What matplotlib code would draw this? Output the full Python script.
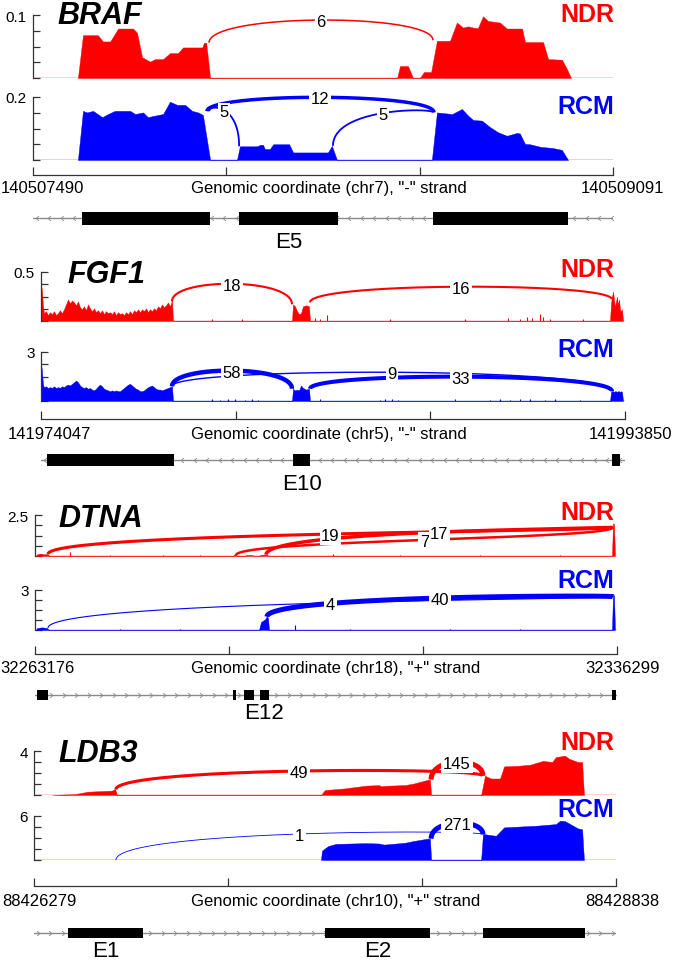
import numpy as np
import matplotlib
matplotlib.use('Agg')
import matplotlib.pyplot as plt
from matplotlib.patches import Rectangle
from matplotlib.path import Path
from matplotlib.transforms import offset_copy

plt.rcParams['font.family'] = ['Liberation Sans', 'DejaVu Sans']

# ---------------- data ----------------
genes = ['BRAF', 'FGF1', 'DTNA', 'LDB3']
chroms = ['chr7', 'chr5', 'chr18', 'chr10']
strands = ['-', '-', '+', '+']
region_start = [140507490, 141974047, 32263176, 88426279]
region_end = [140509091, 141993850, 32336299, 88428838]
ndr_ymax = [0.1, 0.5, 2.5, 4]
rcm_ymax = [0.2, 3, 3, 6]
ndr_ylabel = ['0.1', '0.5', '2.5', '4']
rcm_ylabel = ['0.2', '3', '3', '6']

# coverage: positions are bp offsets from region start
braf_ndr_pos = [124, 138, 179, 193, 213, 235, 276, 287, 301, 323, 337, 359, 378, 400, 414, 467, 472, 478, 489,
                1005, 1013, 1035, 1049, 1068, 1079, 1099, 1115, 1151, 1170, 1187, 1201, 1215, 1228, 1242, 1256,
                1289, 1308, 1350, 1358, 1408, 1422, 1460, 1474, 1485]
braf_ndr_val = [0, 0.068, 0.068, 0.058, 0.058, 0.0785, 0.0785, 0.072, 0.033, 0.026, 0.030, 0.030, 0.0395, 0.0395,
                0.0485, 0.0485, 0.056, 0.056, 0,
                0, 0.019, 0.019, 0, 0, 0.0095, 0.0095, 0.059, 0.059, 0.088, 0.080, 0.082, 0.080, 0.079, 0.098,
                0.0905, 0.088, 0.0785, 0.0785, 0.057, 0.057, 0.030, 0.029, 0.014, 0]
braf_rcm_pos = [124, 138, 149, 166, 191, 207, 226, 268, 282, 304, 317, 337, 359, 378, 398, 420, 439, 456, 469, 489,
                563, 571, 618, 627, 635, 640, 654, 663, 707, 718, 814, 825, 839,
                1101, 1115, 1157, 1184, 1201, 1215, 1239, 1262, 1284, 1308, 1336, 1344, 1358, 1372, 1400, 1435,
                1460, 1477]
braf_rcm_val = [0, 0.156, 0.151, 0.156, 0.136, 0.146, 0.156, 0.156, 0.146, 0.151, 0.136, 0.141, 0.146, 0.185,
                0.175, 0.175, 0.156, 0.151, 0.143, 0,
                0, 0.0435, 0.0435, 0.048, 0.048, 0.035, 0.035, 0.05, 0.05, 0.024, 0.024, 0.045, 0,
                0, 0.151, 0.146, 0.162, 0.141, 0.127, 0.125, 0.104, 0.088, 0.077, 0.086, 0.084, 0.051, 0.050,
                0.042, 0.038, 0.032, 0]

fgf1_e1_pos = [0, 34, 68, 102, 170, 237, 305, 373, 441, 509, 576, 644, 712, 780, 848, 916, 983, 1051, 1119,
               1187, 1255, 1322, 1390, 1458, 1526, 1594, 1662, 1729, 1797, 1865, 1933, 2001, 2069, 2136, 2204,
               2272, 2340, 2408, 2475, 2543, 2611, 2679, 2747, 2815, 2882, 2950, 3018, 3086, 3154, 3221, 3289,
               3357, 3425, 3493, 3561, 3628, 3696, 3764, 3832, 3900, 3967, 4035, 4103, 4171, 4239, 4307, 4374,
               4442, 4476]
fgf1_ndr_e1 = [0.38, 0.30, 0.15,
               0.08, 0.10, 0.06, 0.09, 0.07, 0.10, 0.06, 0.08, 0.11, 0.08,
               0.12, 0.17, 0.22, 0.18, 0.21, 0.19, 0.16, 0.20, 0.14, 0.12,
               0.15, 0.11, 0.17, 0.13, 0.10, 0.13, 0.09, 0.11, 0.08, 0.11,
               0.07, 0.10, 0.08, 0.09, 0.07, 0.10, 0.06, 0.09, 0.07, 0.08,
               0.06, 0.09, 0.07, 0.10, 0.07, 0.11, 0.09, 0.12, 0.09, 0.12,
               0.10, 0.13, 0.09, 0.12, 0.10, 0.13, 0.11, 0.15, 0.13, 0.17,
               0.14, 0.16, 0.19, 0.15, 0.21,
               0]
fgf1_rcm_e1 = [2.3, 1.8, 1.0,
               0.85, 0.9, 0.8, 0.85, 0.8, 0.9, 0.8, 0.85, 0.8, 0.9,
               0.85, 0.95, 1.0, 0.95, 1.05, 1.15, 1.25, 1.15, 0.95, 0.85,
               0.8, 0.85, 0.75, 0.8, 0.7, 0.65, 0.75, 0.9, 1.0, 0.9,
               0.75, 0.7, 0.65, 0.6, 0.65, 0.6, 0.65, 0.6, 0.6, 0.7,
               0.8, 0.9, 1.0, 1.05, 0.95, 0.85, 0.75, 0.7, 0.6, 0.6,
               0.65, 0.75, 0.85, 0.9, 0.95, 0.85, 0.75, 0.7, 0.7, 0.65,
               0.7, 0.75, 0.8, 0.85, 0.9,
               0]
fgf1_e2_pos = [8511, 8545, 8613, 8681, 8749, 8817, 8884, 8986, 9088, 9122]
fgf1_ndr_e2 = [0, 0.17, 0.15, 0.10, 0.07, 0.08, 0.15, 0.16, 0.15, 0]
fgf1_rcm_e2 = [0, 0.75, 0.65, 0.7, 0.65, 0.95, 0.8, 0.7, 0.75, 0]
fgf1_e3_pos = [19295, 19329, 19363, 19397, 19431, 19464, 19498, 19532, 19566, 19600, 19634, 19668, 19702, 19736]
fgf1_ndr_e3 = [0, 0.18, 0.25, 0.30, 0.22, 0.14, 0.20, 0.25, 0.16, 0.22, 0.12, 0.10, 0.12, 0]
fgf1_rcm_e3 = [0, 0.55, 0.6, 0.6, 0.55, 0.6, 0.6, 0.55, 0.6, 0.6, 0.55, 0.6, 0.55, 0]
fgf1_ndr_spk_pos = [5799, 6816, 9291, 9461, 9698, 11835, 14378, 15836, 16243, 16480, 16650, 16921, 17023, 17260, 18379]
fgf1_ndr_spk_val = [0.02, 0.02, 0.03, 0.02, 0.06, 0.02, 0.02, 0.03, 0.02, 0.04, 0.03, 0.07, 0.04, 0.02, 0.02]
fgf1_rcm_spk_pos = [5799, 6070, 6341, 6579, 6918, 7155, 7358, 9461, 11495, 11665, 11902, 12106, 14039, 15226,
                    15565, 15904, 16243, 16582, 17090, 17430, 18277]
fgf1_rcm_spk_val = [0.10, 0.08, 0.12, 0.10, 0.08, 0.10, 0.06, 0.10, 0.08, 0.12, 0.10, 0.08, 0.12, 0.08,
                    0.10, 0.08, 0.12, 0.10, 0.08, 0.10, 0.06]

dtna_ndr_pos = [126, 251, 628, 1131, 1633, 1759, 24877, 25002, 25254, 25379, 26259, 26510, 27264, 27515,
                28143, 28395, 29148, 29400, 72494, 72620, 72746, 72871]
dtna_ndr_val = [0, 0.1, 0.15, 0.1, 0.12, 0, 0, 0.08, 0.08, 0, 0, 0.06, 0.06, 0, 0, 0.08, 0.08, 0, 0, 2.0, 1.95, 0]
dtna_ndr_spk_pos = [4397, 9423, 16082, 20731, 37441, 45859, 55910, 65961]
dtna_ndr_spk_val = [0.26, 0.05, 0.08, 0.05, 0.10, 0.04, 0.05, 0.04]
dtna_rcm_pos = [126, 251, 879, 1508, 1759, 28143, 28395, 28898, 29148, 29274, 29400, 72494, 72620, 72746, 72871]
dtna_rcm_val = [0, 0.15, 0.2, 0.15, 0, 0, 0.6, 0.8, 1.05, 0.9, 0, 0, 2.7, 2.6, 0]
dtna_rcm_spk_pos = [10679, 18218, 32666, 39577, 52141, 60935]
dtna_rcm_spk_val = [0.05, 0.06, 0.4, 0.05, 0.06, 0.05]

ldb3_ndr_pos = [79, 180, 237, 343, 356, 365,
                1262, 1279, 1367, 1460, 1517, 1526, 1557, 1631, 1671, 1728, 1741, 1746,
                1966, 1983, 2009, 2049, 2067, 2124, 2181, 2238, 2278, 2295, 2335, 2352, 2392, 2410, 2418]
ldb3_ndr_val = [0, 0.08, 0.3, 0.4, 0.55, 0,
                0, 0.45, 0.6, 0.85, 0.9, 0.8, 0.85, 0.9, 1.05, 1.36, 1.4, 0,
                0, 1.75, 1.5, 1.5, 2.6, 2.65, 2.75, 3.1, 3.0, 3.45, 3.57, 3.3, 3.0, 3.0, 0]
ldb3_rcm_pos = [1262, 1266, 1293, 1328, 1460, 1517, 1539, 1631, 1671, 1728, 1741, 1746,
                1966, 1974, 2031, 2067, 2220, 2295, 2313, 2335, 2352, 2392, 2410, 2418]
ldb3_rcm_val = [0, 1.27, 1.9, 2.2, 2.3, 2.25, 2.1, 2.35, 2.6, 2.9, 2.9, 0,
                0, 3.55, 3.3, 4.45, 4.7, 4.9, 5.36, 5.3, 5.0, 4.3, 4.2, 0]

# junctions: (donor offset, acceptor offset, read count)
braf_ndr_junc = [(486, 1104, 6)]
braf_rcm_junc = [(480, 1107, 12), (486, 569, 5), (828, 1104, 5)]
fgf1_ndr_junc = [(4442, 8511, 18), (9122, 19363, 16)]
fgf1_rcm_junc = [(4442, 8511, 58), (4442, 19363, 9), (9122, 19363, 33)]
dtna_ndr_junc = [(1633, 72620, 19), (25254, 72620, 7), (29023, 72620, 17)]
dtna_rcm_junc = [(1633, 72620, 4), (29148, 72620, 40)]
ldb3_ndr_junc = [(360, 1974, 49), (1746, 1974, 145)]
ldb3_rcm_junc = [(360, 1974, 1), (1746, 1974, 271)]

# gene models (exon offsets)
braf_exons = [(135, 489), (569, 842), (1104, 1477)]
fgf1_exons = [(203, 4510), (8545, 9122), (19363, 19634)]
dtna_exons = [(251, 1633), (24877, 25254), (26259, 27515), (28269, 29400), (72494, 72998)]
ldb3_exons = [(150, 479), (1280, 1741), (1974, 2423)]
braf_exon_names = {1: 'E5'}
fgf1_exon_names = {1: 'E10'}
dtna_exon_names = {3: 'E12'}
ldb3_exon_names = {0: 'E1', 1: 'E2'}

# ---------------- styles (arc anchor heights, label heights, widths) ----------------
braf_ndr_arc_style = [(0.056, 0.06, 0.092, 1.1)]
braf_rcm_arc_style = [(0.155, 0.151, 0.199, 2.5), (0.155, 0.0435, 0.158, 1.3), (0.045, 0.151, 0.149, 1.3)]
fgf1_ndr_arc_style = [(0.20, 0.17, 0.38, 1.5), (0.19, 0.22, 0.35, 1.5)]
fgf1_rcm_arc_style = [(0.9, 0.75, 1.86, 3.2), (0.9, 0.6, 1.76, 1.0), (0.75, 0.6, 1.49, 2.9)]
dtna_ndr_arc_style = [(0.12, 1.75, 1.34, 2.2), (0.05, 1.75, 0.98, 1.8), (0.08, 1.75, 1.46, 2.5)]
dtna_rcm_arc_style = [(0.15, 2.5, 2.03, 0.8), (1.0, 2.5, 2.4, 3.6)]
ldb3_ndr_arc_style = [(0.5, 1.75, 2.18, 2.2), (1.4, 1.75, 3.0, 3.6)]
ldb3_rcm_arc_style = [(0.0, 3.5, 3.55, 0.6), (2.9, 3.5, 5.05, 3.6)]

tracks = [
    dict(ndr=(braf_ndr_pos, braf_ndr_val, [], []), rcm=(braf_rcm_pos, braf_rcm_val, [], []),
         ndr_j=braf_ndr_junc, rcm_j=braf_rcm_junc, ndr_s=braf_ndr_arc_style, rcm_s=braf_rcm_arc_style,
         exons=braf_exons, names=braf_exon_names),
    dict(ndr=(fgf1_e1_pos + fgf1_e2_pos + fgf1_e3_pos, fgf1_ndr_e1 + fgf1_ndr_e2 + fgf1_ndr_e3,
              fgf1_ndr_spk_pos, fgf1_ndr_spk_val),
         rcm=(fgf1_e1_pos + fgf1_e2_pos + fgf1_e3_pos, fgf1_rcm_e1 + fgf1_rcm_e2 + fgf1_rcm_e3,
              fgf1_rcm_spk_pos, fgf1_rcm_spk_val),
         ndr_j=fgf1_ndr_junc, rcm_j=fgf1_rcm_junc, ndr_s=fgf1_ndr_arc_style, rcm_s=fgf1_rcm_arc_style,
         exons=fgf1_exons, names=fgf1_exon_names),
    dict(ndr=(dtna_ndr_pos, dtna_ndr_val, dtna_ndr_spk_pos, dtna_ndr_spk_val),
         rcm=(dtna_rcm_pos, dtna_rcm_val, dtna_rcm_spk_pos, dtna_rcm_spk_val),
         ndr_j=dtna_ndr_junc, rcm_j=dtna_rcm_junc, ndr_s=dtna_ndr_arc_style, rcm_s=dtna_rcm_arc_style,
         exons=dtna_exons, names=dtna_exon_names),
    dict(ndr=(ldb3_ndr_pos, ldb3_ndr_val, [], []), rcm=(ldb3_rcm_pos, ldb3_rcm_val, [], []),
         ndr_j=ldb3_ndr_junc, rcm_j=ldb3_rcm_junc, ndr_s=ldb3_ndr_arc_style, rcm_s=ldb3_rcm_arc_style,
         exons=ldb3_exons, names=ldb3_exon_names),
]

# ---------------- layout (pixels; text y values are baselines) ----------------
W, H = 675, 962
layout = [
    dict(x0=33, x1=613, ndr=(16, 79), rcm=(98, 161), axis=176, gene=219, exon_h=13, title=(57, 23.5),
         ndr_lab=21.5, rcm_lab=113.5, xlab=193, elab=248, lx=1, rx=664),
    dict(x0=41, x1=625, ndr=(273, 322), rcm=(353, 402), axis=420, gene=461, exon_h=12, title=(67, 283),
         ndr_lab=277, rcm_lab=357, xlab=439, elab=490, lx=8, rx=672),
    dict(x0=35, x1=617, ndr=(516, 557), rcm=(591, 631), axis=655, gene=696, exon_h=10, title=(58, 527),
         ndr_lab=520, rcm_lab=588.5, xlab=673, elab=719, lx=0, rx=660),
    dict(x0=34, x1=616, ndr=(752, 796), rcm=(817, 861), axis=887, gene=934, exon_h=10, title=(58, 762),
         ndr_lab=750, rcm_lab=817.5, xlab=906, elab=957, lx=2, rx=659),
]

RED, BLUE = '#ff0000', '#0000ff'
LRED, LBLUE = '#ffcccc', '#ccccff'
AXC = '#333333'
GREY = '#8a8a8a'

fig = plt.figure(figsize=(W / 100, H / 100), dpi=100)


def rect(x0, top, x1, bottom):
    return [x0 / W, 1 - bottom / H, (x1 - x0) / W, (bottom - top) / H]


def fx(x):
    return x / W


def fy(y):
    return 1 - y / H


def draw_arcs(ax, s, junc, style, color):
    t = np.linspace(0, 1, 400)
    c0, c1, c2, c3 = (1 - t) ** 3, 3 * (1 - t) ** 2 * t, 3 * (1 - t) * t ** 2, t ** 3
    tr = offset_copy(ax.transData, fig=fig, x=0, y=-6, units='dots')
    for (a, b, n), (y1, y2, peak, lw) in zip(junc, style):
        x1, x2 = s + a, s + b
        h = (peak - (y1 + y2) / 8) / 0.75
        bx = (c0 + c1) * x1 + (c2 + c3) * x2
        by = c0 * y1 + (c1 + c2) * h + c3 * y2
        ax.plot(bx, by, color=color, lw=lw, solid_capstyle='butt', zorder=4, clip_on=False)
        ax.text((x1 + x2) / 2, peak, str(n), ha='center', va='baseline', fontsize=12, zorder=6,
                transform=tr, bbox=dict(boxstyle='square,pad=0.1', fc='white', ec='none'), clip_on=False)


chev_left = Path([(0.6, 1), (-0.6, 0), (0.6, -1)], [Path.MOVETO, Path.LINETO, Path.LINETO])
chev_right = Path([(-0.6, 1), (0.6, 0), (-0.6, -1)], [Path.MOVETO, Path.LINETO, Path.LINETO])

for i in range(4):
    L = layout[i]
    T = tracks[i]
    s, e = region_start[i], region_end[i]
    x0, x1 = L['x0'], L['x1']

    for key, (top, base), ymax, ylab, color, light in [
        ('ndr', L['ndr'], ndr_ymax[i], ndr_ylabel[i], RED, LRED),
        ('rcm', L['rcm'], rcm_ymax[i], rcm_ylabel[i], BLUE, LBLUE),
    ]:
        ax = fig.add_axes(rect(x0, top, x1, base))
        ax.set_xlim(s, e)
        ax.set_ylim(0, ymax)
        ax.patch.set_alpha(0)
        for sp in ['top', 'right', 'bottom']:
            ax.spines[sp].set_visible(False)
        ax.spines['left'].set_color(AXC)
        ax.spines['left'].set_linewidth(0.9)
        ax.set_xticks([])
        ax.set_yticks(np.linspace(0, ymax, 5))
        ax.set_yticklabels([''] * 4 + [ylab])
        ax.tick_params(axis='y', direction='in', length=5, width=0.9, color=AXC, pad=4.5, labelsize=11)
        ax.axhline(0, color=light, lw=1.2, zorder=1)
        pos, val, spos, sval = T[key]
        ax.fill_between(s + np.array(pos), 0, np.array(val), color=color, lw=0.3, zorder=2)
        if len(spos):
            ax.vlines(s + np.array(spos), 0, np.array(sval), color=color, lw=0.8, zorder=2)
        draw_arcs(ax, s, T[key + '_j'], T[key + '_s'], color)

    # condition labels
    fig.text(fx(614), fy(L['ndr_lab']), 'NDR', color=RED, fontsize=18, fontweight='bold',
             ha='right', va='baseline')
    fig.text(fx(614), fy(L['rcm_lab']), 'RCM', color=BLUE, fontsize=18, fontweight='bold',
             ha='right', va='baseline')
    # gene title
    fig.text(fx(L['title'][0]), fy(L['title'][1]), genes[i], fontsize=22, fontweight='bold',
             fontstyle='italic', ha='left', va='baseline')

    # x axis
    axx = fig.add_axes(rect(x0, L['axis'] - 12, x1, L['axis']))
    axx.set_xlim(s, e)
    axx.patch.set_alpha(0)
    for sp in ['top', 'right', 'left']:
        axx.spines[sp].set_visible(False)
    axx.spines['bottom'].set_color(AXC)
    axx.spines['bottom'].set_linewidth(0.9)
    axx.set_yticks([])
    axx.set_xticks(np.linspace(s, e, 4))
    axx.set_xticklabels([])
    axx.tick_params(axis='x', direction='in', length=5.5, width=0.9, color=AXC)
    fig.text(fx(L['lx']), fy(L['xlab']), str(s), fontsize=12, ha='left', va='baseline')
    fig.text(fx(L['rx']), fy(L['xlab']), str(e), fontsize=12, ha='right', va='baseline')
    fig.text(fx(191), fy(L['xlab']), 'Genomic coordinate (%s), "%s" strand' % (chroms[i], strands[i]),
             fontsize=12, ha='left', va='baseline')

    # gene model
    axg = fig.add_axes(rect(x0, L['gene'] - 10, x1, L['gene'] + 10))
    axg.set_xlim(s, e)
    axg.set_ylim(-10, 10)
    axg.axis('off')
    axg.plot([s, e], [0, 0], color=GREY, lw=1.0, zorder=1)
    step = (e - s) / (x1 - x0) * 12.5
    cx = np.arange(s + step * 0.3, e, step)
    axg.plot(cx, np.zeros_like(cx), ls='none', marker=chev_left if strands[i] == '-' else chev_right,
             ms=3.5, mfc='none', mec=GREY, mew=0.6, zorder=2)
    eh = L['exon_h']
    for k, (a, b) in enumerate(T['exons']):
        axg.add_patch(Rectangle((s + a, -eh / 2), b - a, eh, fc='black', ec='none', zorder=3))
        if k in T['names']:
            axg.text(s + (a + b) / 2, -(L['elab'] - L['gene']), T['names'][k], fontsize=16,
                     ha='center', va='baseline', clip_on=False)

fig.savefig('out.png', dpi=100)
